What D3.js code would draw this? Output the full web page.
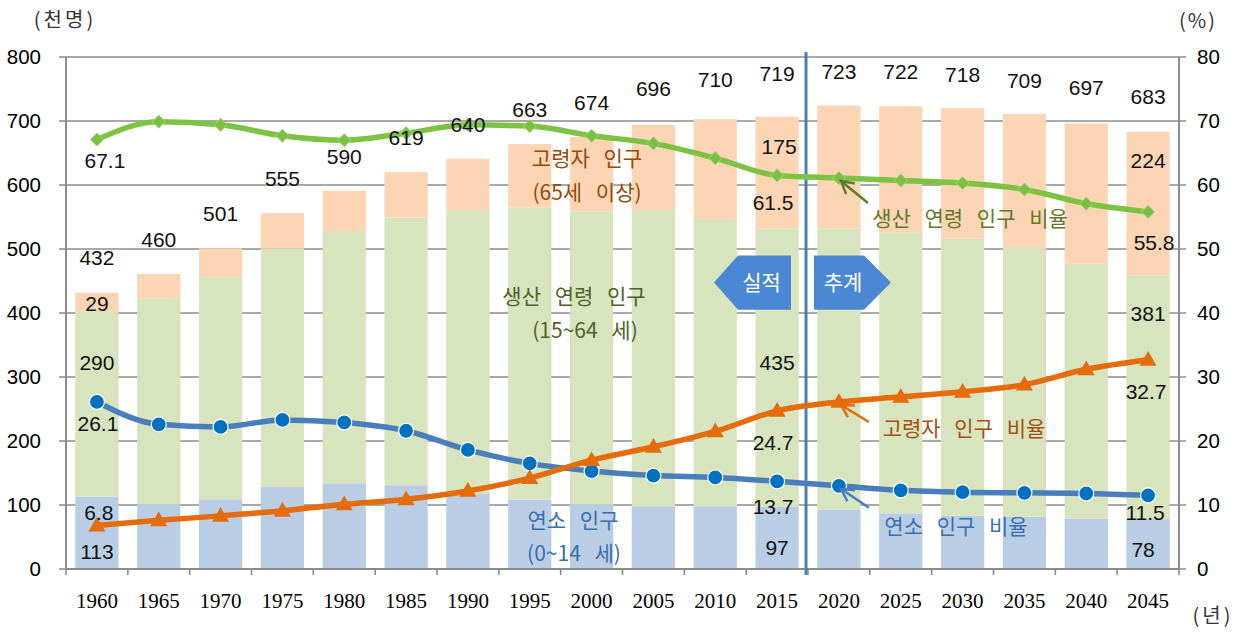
<!DOCTYPE html>
<html>
<head>
<meta charset="utf-8">
<script src="https://d3js.org/d3.v7.min.js"></script>
<style>
  body { margin: 0; background: #fff; }
  text { font-family: "Liberation Sans", Arial, "Noto Sans CJK KR", sans-serif; }
  .ko { font-family: "Noto Sans CJK KR", sans-serif; }
  .yr { font-family: "Liberation Serif", "Times New Roman", serif; }
</style>
</head>
<body>
<div id="chart"></div>
<script>
// data (천명 / %)
var years = ["1960","1965","1970","1975","1980","1985","1990","1995","2000","2005","2010","2015","2020","2025","2030","2035","2040","2045"];
var youth   = [113,101,109,128,134,131,117,108,101,98,98,97,93,87,83,82,79,78];
var working = [290,322,347,373,394,418,444,457,458,463,449,435,439,439,433,421,398,381];
var elderly = [29,38,45,55,63,71,80,99,116,133,156,175,192,197,204,208,219,224];
var totals  = [432,460,501,555,590,619,640,663,674,696,710,719,723,722,718,709,697,683];

var workRatio  = [67.1,69.9,69.4,67.7,67.0,68.1,69.4,69.2,67.7,66.5,64.2,61.5,61.1,60.7,60.3,59.3,57.1,55.8];
var youthRatio = [26.1,22.6,22.2,23.3,22.9,21.6,18.6,16.5,15.3,14.6,14.3,13.7,13.0,12.3,12.0,11.9,11.8,11.5];
var elderRatio = [6.8,7.6,8.3,9.1,10.1,10.9,12.2,14.2,17.0,19.1,21.5,24.7,26.1,26.9,27.7,28.8,31.2,32.7];

var leftTicks  = [0,100,200,300,400,500,600,700,800];
var rightTicks = [0,10,20,30,40,50,60,70,80];

// set the dimensions and margins of the graph
var margin = {top: 57, right: 61, bottom: 66, left: 66},
    width = 1240 - margin.left - margin.right,
    height = 635 - margin.top - margin.bottom;

var svg = d3.select("#chart")
    .append("svg")
    .attr("width", 1240)
    .attr("height", 635)
    .append("g")
    .attr("transform", "translate(" + margin.left + "," + margin.top + ")");

// scales
var x = d3.scaleBand()
    .domain(years)
    .range([0, width])
    .paddingInner(0.3)
    .paddingOuter(0.15);
var yL = d3.scaleLinear().domain([0, 800]).range([height, 0]);
var yR = d3.scaleLinear().domain([0, 80]).range([height, 0]);
var step = x.step();
var cx = function(i) { return x(years[i]) + x.bandwidth() / 2; };

// gridlines (with little outside ticks on both sides)
svg.selectAll(".grid")
    .data(leftTicks)
  .enter().append("line")
    .attr("x1", -7)
    .attr("x2", width + 7)
    .attr("y1", function(d) { return yL(d); })
    .attr("y2", function(d) { return yL(d); })
    .style("stroke", "#8c8c8c")
    .style("stroke-width", 1.6);

// stacked bars
var stackData = years.map(function(y, i) {
    return {year: y, youth: youth[i], working: working[i], elderly: elderly[i]};
});
var stack = d3.stack().keys(["youth", "working", "elderly"]);
var barColors = {youth: "#b9cde5", working: "#d7e4bd", elderly: "#fcd5b5"};

svg.selectAll(".layer")
    .data(stack(stackData))
  .enter().append("g")
    .style("fill", function(d) { return barColors[d.key]; })
    .selectAll("rect")
    .data(function(d) { return d; })
  .enter().append("rect")
    .attr("x", function(d) { return x(d.data.year); })
    .attr("width", x.bandwidth())
    .attr("y", function(d) { return yL(d[1]); })
    .attr("height", function(d) { return yL(d[0]) - yL(d[1]); });

// axis frame
svg.append("line").attr("x1", 0).attr("x2", 0).attr("y1", 0).attr("y2", height)
    .style("stroke", "#8c8c8c").style("stroke-width", 2);
svg.append("line").attr("x1", width).attr("x2", width).attr("y1", 0).attr("y2", height)
    .style("stroke", "#8c8c8c").style("stroke-width", 2);
svg.append("line").attr("x1", 0).attr("x2", width).attr("y1", height).attr("y2", height)
    .style("stroke", "#8c8c8c").style("stroke-width", 2);

// x tick marks at category boundaries
svg.selectAll(".xtick")
    .data(d3.range(years.length + 1))
  .enter().append("line")
    .attr("x1", function(i) { return i * step; })
    .attr("x2", function(i) { return i * step; })
    .attr("y1", height)
    .attr("y2", height + 6)
    .style("stroke", "#8c8c8c")
    .style("stroke-width", 1.6);

// axis labels
svg.selectAll(".ylab")
    .data(leftTicks)
  .enter().append("text")
    .attr("x", -25)
    .attr("y", function(d) { return yL(d); })
    .attr("dy", "0.36em")
    .style("text-anchor", "end")
    .style("font-size", "20.5px")
    .text(function(d) { return d; });

svg.selectAll(".rlab")
    .data(rightTicks)
  .enter().append("text")
    .attr("x", width + 18)
    .attr("y", function(d) { return yR(d); })
    .attr("dy", "0.36em")
    .style("font-size", "20.5px")
    .text(function(d) { return d; });

svg.selectAll(".xlab")
    .data(years)
  .enter().append("text")
    .attr("class", "yr")
    .attr("x", function(d, i) { return cx(i); })
    .attr("y", height + 32)
    .attr("dy", "0.35em")
    .style("text-anchor", "middle")
    .style("font-size", "21px")
    .text(function(d) { return d; });

svg.append("text").attr("class", "ko").attr("x", -1).attr("y", -37).attr("dy", "0.35em")
    .style("text-anchor", "middle").style("font-size", "20px").style("letter-spacing", "3px")
    .style("fill", "#333").text("(천명)");
svg.append("text").attr("class", "ko").attr("x", width + 19).attr("y", -36).attr("dy", "0.35em")
    .style("text-anchor", "middle").style("font-size", "20px").style("letter-spacing", "2px")
    .style("fill", "#333").text("(%)");
svg.append("text").attr("class", "ko").attr("x", width + 34).attr("y", height + 47).attr("dy", "0.35em")
    .style("text-anchor", "middle").style("font-size", "20px").style("letter-spacing", "3px")
    .style("fill", "#333").text("(년)");

// 실적 / 추계 divider
var divX = 12 * step - 2;
svg.append("line")
    .attr("x1", divX).attr("x2", divX)
    .attr("y1", -5).attr("y2", height + 6)
    .style("stroke", "#4a7ebb")
    .style("stroke-width", 3);

// arrows for 실적 (left) and 추계 (right)
var bx0 = divX - 68, bx1 = divX - 15, by0 = yL(490), by1 = yL(405);
svg.append("path")
    .attr("d", "M" + (bx0 - 24) + "," + ((by0 + by1) / 2) + " L" + bx0 + "," + by0 + " L" + bx1 + "," + by0 +
               " L" + bx1 + "," + by1 + " L" + bx0 + "," + by1 + " Z")
    .style("fill", "#4a88d4");
svg.append("text").attr("class", "ko").attr("x", (bx0 + bx1) / 2 - 3).attr("y", (by0 + by1) / 2).attr("dy", "0.35em")
    .style("text-anchor", "middle").style("font-size", "21px").style("fill", "#fff").text("실적");

var fx0 = divX + 8, fx1 = divX + 58;
svg.append("path")
    .attr("d", "M" + fx0 + "," + by0 + " L" + fx1 + "," + by0 + " L" + (fx1 + 27) + "," + ((by0 + by1) / 2) +
               " L" + fx1 + "," + by1 + " L" + fx0 + "," + by1 + " Z")
    .style("fill", "#4a88d4");
svg.append("text").attr("class", "ko").attr("x", (fx0 + fx1) / 2 + 4).attr("y", (by0 + by1) / 2).attr("dy", "0.35em")
    .style("text-anchor", "middle").style("font-size", "21px").style("fill", "#fff").text("추계");

// ratio lines
var line = d3.line()
    .x(function(d, i) { return cx(i); })
    .y(function(d) { return yR(d); })
    .curve(d3.curveMonotoneX);

svg.append("path").datum(workRatio).attr("d", line)
    .style("fill", "none").style("stroke", "#7dc242").style("stroke-width", 5.5);
svg.append("path").datum(youthRatio).attr("d", line)
    .style("fill", "none").style("stroke", "#4a7ebb").style("stroke-width", 5.5);
svg.append("path").datum(elderRatio).attr("d", line)
    .style("fill", "none").style("stroke", "#e46c0a").style("stroke-width", 5.5);

// markers
svg.selectAll(".dia")
    .data(workRatio)
  .enter().append("path")
    .attr("d", d3.symbol().type(d3.symbolDiamond2).size(110))
    .attr("transform", function(d, i) { return "translate(" + cx(i) + "," + yR(d) + ")"; })
    .style("fill", "#7ac143")
    .style("stroke", "#a6d77a")
    .style("stroke-width", 1);

svg.selectAll(".dot")
    .data(youthRatio)
  .enter().append("circle")
    .attr("cx", function(d, i) { return cx(i); })
    .attr("cy", function(d) { return yR(d); })
    .attr("r", 7.5)
    .style("fill", "#0070c0")
    .style("stroke", "#fff")
    .style("stroke-width", 1.2);

svg.selectAll(".tri")
    .data(elderRatio)
  .enter().append("path")
    .attr("d", d3.symbol().type(d3.symbolTriangle).size(125))
    .attr("transform", function(d, i) { return "translate(" + cx(i) + "," + (yR(d) + 1) + ")"; })
    .style("fill", "#e46c0a");

// total labels above each bar
svg.selectAll(".total")
    .data(totals)
  .enter().append("text")
    .attr("x", function(d, i) { return cx(i); })
    .attr("y", function(d) { return yL(d) - 35; })
    .attr("dy", "0.36em")
    .style("text-anchor", "middle")
    .style("font-size", "21px")
    .style("fill", "#111")
    .text(function(d) { return d; });

// segment labels (index, value, level on left axis where the label sits, x shift)
var segLabels = [
    {i: 0, v: elderly[0], at: 415, dx: 0},
    {i: 0, v: working[0], at: 323, dx: 0},
    {i: 0, v: youth[0], at: 27, dx: 0},
    {i: 11, v: elderly[11], at: 661, dx: 2},
    {i: 11, v: working[11], at: 323, dx: 0},
    {i: 11, v: youth[11], at: 33, dx: 0},
    {i: 17, v: elderly[17], at: 638, dx: 0},
    {i: 17, v: working[17], at: 400, dx: 0},
    {i: 17, v: youth[17], at: 30, dx: -5}
];
svg.selectAll(".seg")
    .data(segLabels)
  .enter().append("text")
    .attr("x", function(d) { return cx(d.i) + d.dx; })
    .attr("y", function(d) { return yL(d.at); })
    .attr("dy", "0.36em")
    .style("text-anchor", "middle")
    .style("font-size", "21px")
    .style("fill", "#111")
    .text(function(d) { return d.v; });

// ratio value labels (level on right axis where the label sits)
var ratioLabels = [
    {i: 0, v: workRatio[0], at: 63.9, dx: 8},
    {i: 11, v: workRatio[11], at: 57.3, dx: -4},
    {i: 17, v: workRatio[17], at: 51.1, dx: 6},
    {i: 0, v: youthRatio[0], at: 22.8, dx: 1},
    {i: 11, v: youthRatio[11], at: 9.7, dx: -4},
    {i: 17, v: youthRatio[17], at: 8.9, dx: -3},
    {i: 0, v: elderRatio[0], at: 8.9, dx: 2},
    {i: 11, v: elderRatio[11], at: 19.8, dx: -4},
    {i: 17, v: elderRatio[17], at: 27.7, dx: -2}
];
svg.selectAll(".rv")
    .data(ratioLabels)
  .enter().append("text")
    .attr("x", function(d) { return cx(d.i) + d.dx; })
    .attr("y", function(d) { return yR(d.at); })
    .attr("dy", "0.36em")
    .style("text-anchor", "middle")
    .style("font-size", "21px")
    .style("fill", "#111")
    .text(function(d) { return d.v.toFixed(1); });

// series annotations inside the chart
var notes = [
    {t: "고령자 인구", x: 521, y: 158, c: "#984807"},
    {t: "(65세 이상)", x: 521, y: 192, c: "#984807"},
    {t: "생산 연령 인구", x: 508, y: 296, c: "#4f6228"},
    {t: "(15~64 세)", x: 519, y: 330, c: "#4f6228"},
    {t: "연소 인구", x: 507, y: 520, c: "#376fb0"},
    {t: "(0~14 세)", x: 508, y: 553, c: "#376fb0"},
    {t: "생산 연령 인구 비율", x: 904, y: 218, c: "#5f7a2c"},
    {t: "고령자 인구 비율", x: 898, y: 428, c: "#a5500e"},
    {t: "연소 인구 비율", x: 890, y: 526, c: "#3a6fb5"}
];
svg.selectAll(".note")
    .data(notes)
  .enter().append("text")
    .attr("class", "ko")
    .attr("x", function(d) { return d.x; })
    .attr("y", function(d) { return d.y - margin.top; })
    .attr("dy", "0.36em")
    .style("text-anchor", "middle")
    .style("font-size", "21px")
    .style("word-spacing", "9px")
    .style("fill", function(d) { return d.c; })
    .text(function(d) { return d.t; });

// little pointer arrows from the ratio notes to the 2020 points
var pointers = [
    {v: workRatio[12], c: "#5f7a2c", dx: 27, dy: 22},
    {v: elderRatio[12], c: "#e46c0a", dx: 28, dy: 17},
    {v: youthRatio[12], c: "#4a7ebb", dx: 28, dy: 19}
];
pointers.forEach(function(p) {
    var tx = cx(12) + 2, ty = yR(p.v) + 3;
    var sx = tx + p.dx, sy = ty + p.dy;
    var ang = Math.atan2(sy - ty, sx - tx), L = 14, spread = 0.5;
    svg.append("path")
        .attr("d", "M" + sx + "," + sy + " L" + tx + "," + ty +
                   " M" + (tx + L * Math.cos(ang - spread)) + "," + (ty + L * Math.sin(ang - spread)) +
                   " L" + tx + "," + ty +
                   " L" + (tx + L * Math.cos(ang + spread)) + "," + (ty + L * Math.sin(ang + spread)))
        .style("fill", "none")
        .style("stroke", p.c)
        .style("stroke-width", 2.5);
});
</script>
</body>
</html>
